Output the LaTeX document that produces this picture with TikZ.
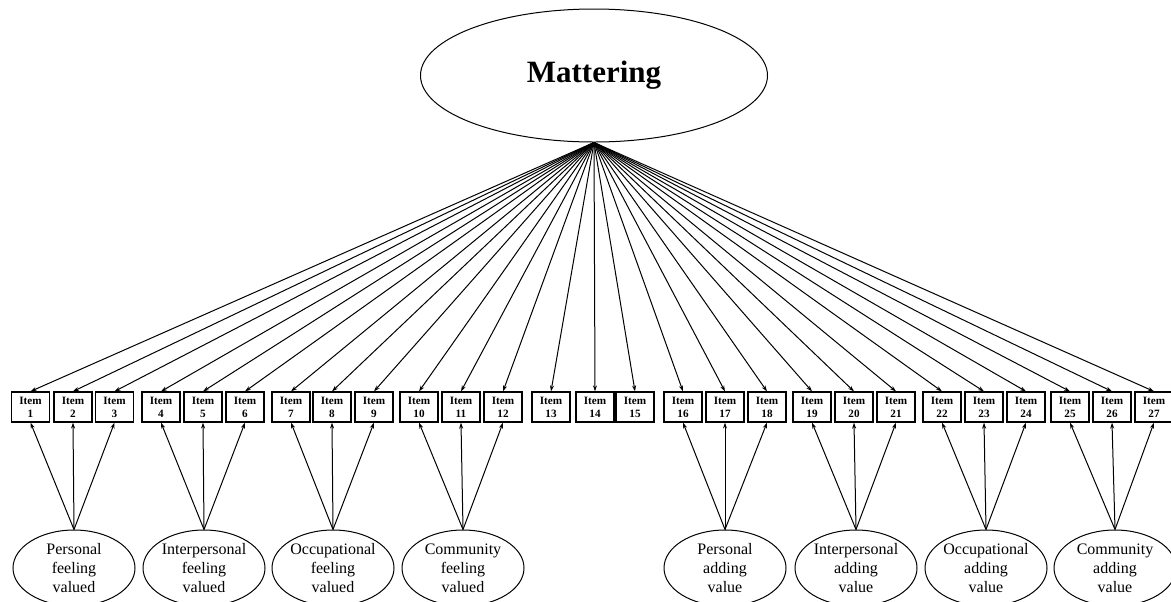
\documentclass[tikz,border=0pt]{standalone}
\usepackage{fontspec}
\setmainfont{Liberation Serif}
\usetikzlibrary{arrows.meta,shapes.geometric}
\tikzset{
  item/.style={draw, line width=0.6pt, minimum width=19pt, minimum height=15pt,
    inner sep=0pt, align=center, font=\bfseries\fontsize{5.6}{6.6}\selectfont},
  factor/.style={draw, ellipse, line width=0.5pt, minimum width=61pt, minimum height=38pt,
    inner sep=0pt, align=center, font=\fontsize{8}{9.4}\selectfont},
  load/.style={-{Stealth[length=3pt,width=2pt]}, line width=0.5pt}
}
\begin{document}
\begin{tikzpicture}[x=0.5pt,y=-0.5pt]
\useasboundingbox (0,0) rectangle (1171,601);
% general factor
\node[draw, ellipse, line width=0.5pt, minimum width=173.5pt, minimum height=66.5pt,
      font=\bfseries\fontsize{15.5}{18}\selectfont] (mat) at (594,75.5) {Mattering};
% items, all loading on mattering
\foreach \i/\x in {1/30.5, 2/73, 3/114.5, 4/161, 5/203, 6/245, 7/291, 8/332, 9/374,
                   10/419, 11/461, 12/503, 13/551, 14/595, 15/635, 16/683, 17/725, 18/767,
                   19/812, 20/854, 21/896, 22/942, 23/984, 24/1026, 25/1070, 26/1112, 27/1154}
{
  \node[item] (item\i) at (\x,407) {Item\\\i};
  \draw[load] (mat.south) -- (item\i.north);
}
% specific factors
\foreach \f/\x/\lab/\a/\b/\c in {
    pfv/74/{Personal\\feeling\\valued}/1/2/3,
    ifv/204/{Interpersonal\\feeling\\valued}/4/5/6,
    ofv/333/{Occupational\\feeling\\valued}/7/8/9,
    cfv/463/{Community\\feeling\\valued}/10/11/12,
    pav/725/{Personal\\adding\\value}/16/17/18,
    iav/856/{Interpersonal\\adding\\value}/19/20/21,
    oav/986/{Occupational\\adding\\value}/22/23/24,
    cav/1115/{Community\\adding\\value}/25/26/27}
{
  \node[factor] (\f) at (\x,568) {\lab};
  \draw[load] (\f.north) -- (item\a.south);
  \draw[load] (\f.north) -- (item\b.south);
  \draw[load] (\f.north) -- (item\c.south);
}
\end{tikzpicture}
\end{document}
